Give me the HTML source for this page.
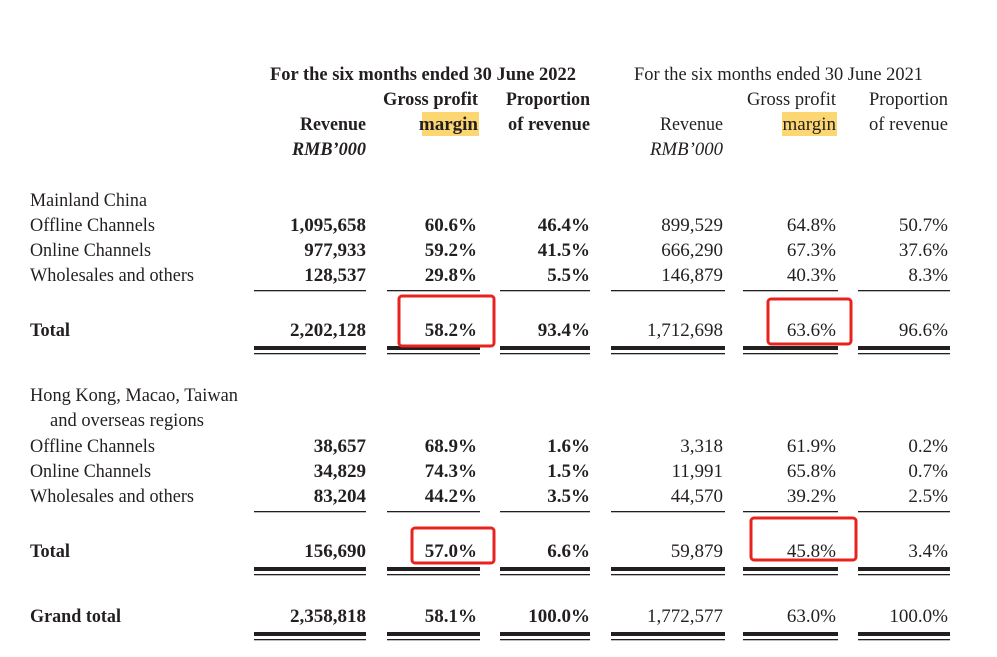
<!DOCTYPE html>
<html><head><meta charset="utf-8"><style>
html,body{margin:0;padding:0;background:#fff;}
svg{display:block;}
text{font-family:"Liberation Serif",serif;font-size:19px;fill:#231f20;}
.b{font-weight:bold;}
.r{text-anchor:end;}
</style></head><body>
<svg width="997" height="657" viewBox="0 0 997 657">
<rect x="422" y="112" width="57" height="24" fill="#fcd671"/>
<rect x="782" y="112" width="55" height="24" fill="#fcd671"/>
<text x="270" y="80" class="b" textLength="306" lengthAdjust="spacingAndGlyphs">For the six months ended 30 June 2022</text>
<text x="634" y="80" textLength="289" lengthAdjust="spacingAndGlyphs">For the six months ended 30 June 2021</text>
<text x="478" y="105" class="r b" textLength="95" lengthAdjust="spacingAndGlyphs">Gross profit</text>
<text x="590" y="105" class="r b" textLength="84" lengthAdjust="spacingAndGlyphs">Proportion</text>
<text x="366" y="130" class="r b" textLength="66" lengthAdjust="spacingAndGlyphs">Revenue</text>
<text x="478" y="130" class="r b">margin</text>
<text x="590" y="130" class="r b" textLength="82" lengthAdjust="spacingAndGlyphs">of revenue</text>
<text x="366" y="155" class="r b" font-style="italic" textLength="74" lengthAdjust="spacingAndGlyphs">RMB’000</text>
<text x="836" y="105" class="r" textLength="89" lengthAdjust="spacingAndGlyphs">Gross profit</text>
<text x="948" y="105" class="r" textLength="79" lengthAdjust="spacingAndGlyphs">Proportion</text>
<text x="723" y="130" class="r" textLength="63" lengthAdjust="spacingAndGlyphs">Revenue</text>
<text x="836" y="130" class="r">margin</text>
<text x="948" y="130" class="r" textLength="79" lengthAdjust="spacingAndGlyphs">of revenue</text>
<text x="723" y="155" class="r" font-style="italic" textLength="73" lengthAdjust="spacingAndGlyphs">RMB’000</text>

<text x="30" y="206" textLength="117" lengthAdjust="spacingAndGlyphs">Mainland China</text>
<text x="30" y="231" textLength="125" lengthAdjust="spacingAndGlyphs">Offline Channels</text>
<text x="30" y="256" textLength="121" lengthAdjust="spacingAndGlyphs">Online Channels</text>
<text x="30" y="281" textLength="164" lengthAdjust="spacingAndGlyphs">Wholesales and others</text>
<text x="30" y="336" class="b" textLength="40" lengthAdjust="spacingAndGlyphs">Total</text>
<text x="30" y="401" textLength="208" lengthAdjust="spacingAndGlyphs">Hong Kong, Macao, Taiwan</text>
<text x="50" y="426" textLength="154" lengthAdjust="spacingAndGlyphs">and overseas regions</text>
<text x="30" y="452" textLength="125" lengthAdjust="spacingAndGlyphs">Offline Channels</text>
<text x="30" y="477" textLength="121" lengthAdjust="spacingAndGlyphs">Online Channels</text>
<text x="30" y="502" textLength="164" lengthAdjust="spacingAndGlyphs">Wholesales and others</text>
<text x="30" y="557" class="b" textLength="40" lengthAdjust="spacingAndGlyphs">Total</text>
<text x="30" y="622" class="b" textLength="91" lengthAdjust="spacingAndGlyphs">Grand total</text>

<text class="r b" x="366" y="231">1,095,658</text><text class="r b" x="477" y="231">60.6%</text><text class="r b" x="590" y="231">46.4%</text><text class="r" x="723" y="231">899,529</text><text class="r" x="836" y="231">64.8%</text><text class="r" x="948" y="231">50.7%</text>
<text class="r b" x="366" y="256">977,933</text><text class="r b" x="477" y="256">59.2%</text><text class="r b" x="590" y="256">41.5%</text><text class="r" x="723" y="256">666,290</text><text class="r" x="836" y="256">67.3%</text><text class="r" x="948" y="256">37.6%</text>
<text class="r b" x="366" y="281">128,537</text><text class="r b" x="477" y="281">29.8%</text><text class="r b" x="590" y="281">5.5%</text><text class="r" x="723" y="281">146,879</text><text class="r" x="836" y="281">40.3%</text><text class="r" x="948" y="281">8.3%</text>
<text class="r b" x="366" y="336">2,202,128</text><text class="r b" x="477" y="336">58.2%</text><text class="r b" x="590" y="336">93.4%</text><text class="r" x="723" y="336">1,712,698</text><text class="r" x="836" y="336">63.6%</text><text class="r" x="948" y="336">96.6%</text>
<text class="r b" x="366" y="452">38,657</text><text class="r b" x="477" y="452">68.9%</text><text class="r b" x="590" y="452">1.6%</text><text class="r" x="723" y="452">3,318</text><text class="r" x="836" y="452">61.9%</text><text class="r" x="948" y="452">0.2%</text>
<text class="r b" x="366" y="477">34,829</text><text class="r b" x="477" y="477">74.3%</text><text class="r b" x="590" y="477">1.5%</text><text class="r" x="723" y="477">11,991</text><text class="r" x="836" y="477">65.8%</text><text class="r" x="948" y="477">0.7%</text>
<text class="r b" x="366" y="502">83,204</text><text class="r b" x="477" y="502">44.2%</text><text class="r b" x="590" y="502">3.5%</text><text class="r" x="723" y="502">44,570</text><text class="r" x="836" y="502">39.2%</text><text class="r" x="948" y="502">2.5%</text>
<text class="r b" x="366" y="557">156,690</text><text class="r b" x="477" y="557">57.0%</text><text class="r b" x="590" y="557">6.6%</text><text class="r" x="723" y="557">59,879</text><text class="r" x="836" y="557">45.8%</text><text class="r" x="948" y="557">3.4%</text>
<text class="r b" x="366" y="622">2,358,818</text><text class="r b" x="477" y="622">58.1%</text><text class="r b" x="590" y="622">100.0%</text><text class="r" x="723" y="622">1,772,577</text><text class="r" x="836" y="622">63.0%</text><text class="r" x="948" y="622">100.0%</text>

<g fill="#231f20">
<rect x="254" y="290" width="112" height="1.3"/><rect x="387" y="290" width="93" height="1.3"/><rect x="500" y="290" width="90" height="1.3"/><rect x="611" y="290" width="114" height="1.3"/><rect x="743" y="290" width="95" height="1.3"/><rect x="858" y="290" width="92" height="1.3"/>
<rect x="254" y="511" width="112" height="1.3"/><rect x="387" y="511" width="93" height="1.3"/><rect x="500" y="511" width="90" height="1.3"/><rect x="611" y="511" width="114" height="1.3"/><rect x="743" y="511" width="95" height="1.3"/><rect x="858" y="511" width="92" height="1.3"/>
<g id="d1">
<rect x="254" y="346" width="112" height="4"/><rect x="387" y="346" width="93" height="4"/><rect x="500" y="346" width="90" height="4"/><rect x="611" y="346" width="114" height="4"/><rect x="743" y="346" width="95" height="4"/><rect x="858" y="346" width="92" height="4"/>
<rect x="254" y="353" width="112" height="1.3"/><rect x="387" y="353" width="93" height="1.3"/><rect x="500" y="353" width="90" height="1.3"/><rect x="611" y="353" width="114" height="1.3"/><rect x="743" y="353" width="95" height="1.3"/><rect x="858" y="353" width="92" height="1.3"/>
</g>
<use href="#d1" y="221"/>
<use href="#d1" y="286"/>
</g>

<g fill="none" stroke="#e8231f" stroke-width="3">
<rect x="399" y="296" width="95" height="50" rx="3"/>
<rect x="768" y="299" width="83" height="45" rx="3"/>
<rect x="412" y="528" width="82" height="35" rx="3"/>
<rect x="751" y="518" width="105" height="42" rx="3"/>
</g>
</svg>
</body></html>
